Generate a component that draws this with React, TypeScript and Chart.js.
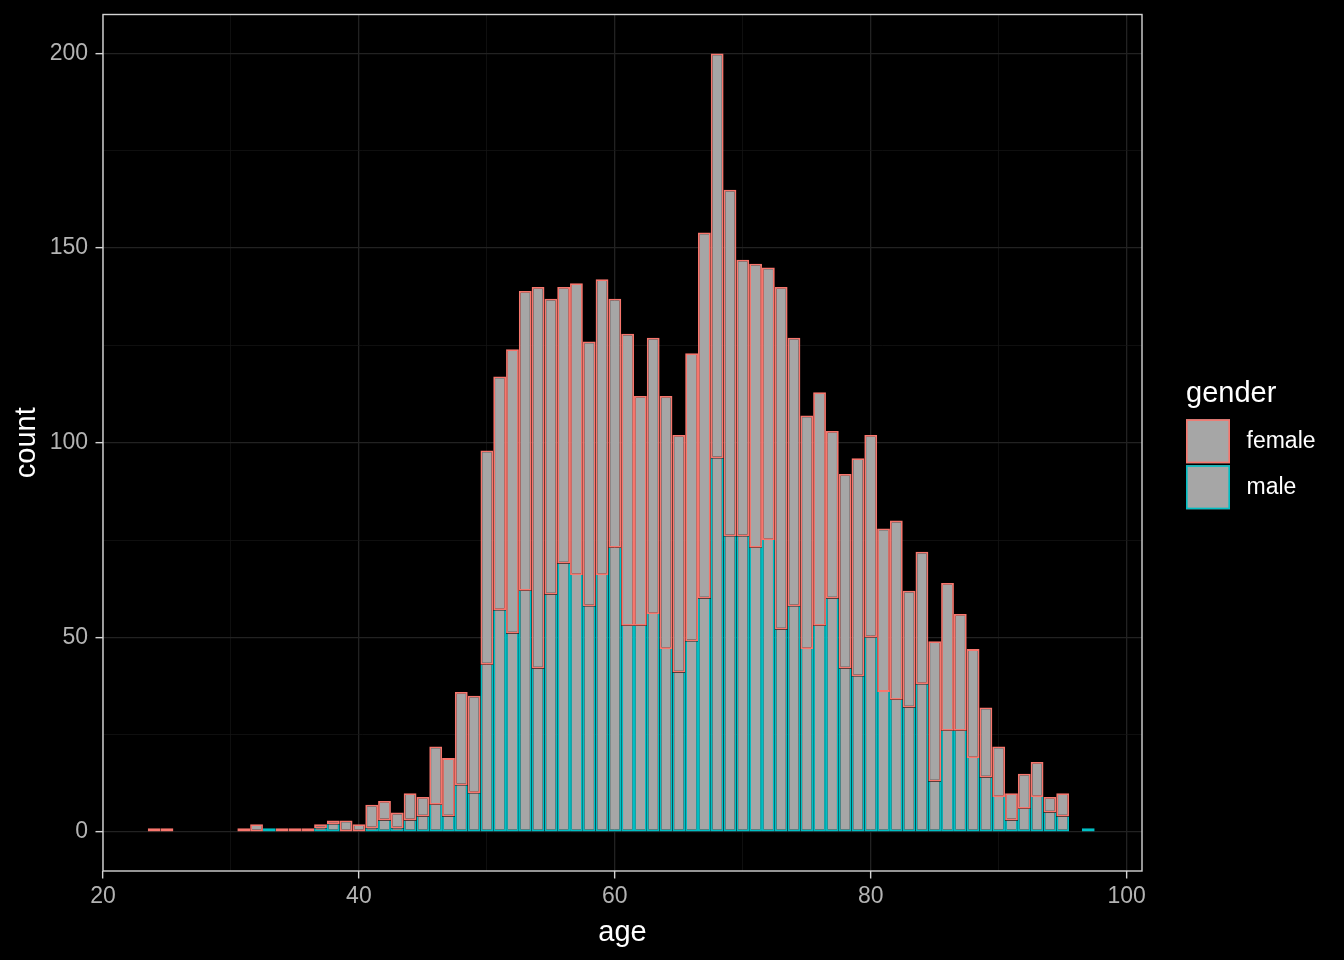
import React, { useEffect, useRef } from "react";
import { Chart, registerables } from "chart.js";

Chart.register(...registerables);

// ---- data (histogram, binwidth 1, stacked by gender) ----
const ages = [
  24, 25, 31, 32, 33, 34, 35, 36, 37, 38, 39, 40, 41, 42, 43, 44, 45, 46, 47, 48, 49,
  50, 51, 52, 53, 54, 55, 56, 57, 58, 59, 60, 61, 62, 63, 64, 65, 66, 67, 68, 69,
  70, 71, 72, 73, 74, 75, 76, 77, 78, 79, 80, 81, 82, 83, 84, 85, 86, 87, 88, 89,
  90, 91, 92, 93, 94, 95, 97,
];
const femaleCounts = [
  1, 1, 1, 2, 0, 1, 1, 1, 1, 1, 3, 2, 6, 5, 4, 7, 5, 15, 15, 24, 25,
  55, 60, 73, 77, 98, 76, 71, 75, 68, 76, 64, 75, 59, 71, 65, 61, 74, 94, 104, 89,
  71, 73, 70, 88, 69, 60, 60, 43, 50, 56, 52, 42, 46, 30, 34, 36, 38, 30, 28, 18,
  13, 7, 9, 9, 4, 6, 0,
];
const maleCounts = [
  0, 0, 0, 0, 1, 0, 0, 0, 1, 2, 0, 0, 1, 3, 1, 3, 4, 7, 4, 12, 10,
  43, 57, 51, 62, 42, 61, 69, 66, 58, 66, 73, 53, 53, 56, 47, 41, 49, 60, 96, 76,
  76, 73, 75, 52, 58, 47, 53, 60, 42, 40, 50, 36, 34, 32, 38, 13, 26, 26, 19, 14,
  9, 3, 6, 9, 5, 4, 1,
];
const genders = ["female", "male"];
const xTicks = [20, 30, 40, 50, 60, 70, 80, 90, 100];
const xLabelTicks = [20, 40, 60, 80, 100];
const yTicks = [0, 25, 50, 75, 100, 125, 150, 175, 200];
const yLabelTicks = [0, 50, 100, 150, 200];

// ---- styles ----
const FONT = '"Liberation Sans", Arial, sans-serif';
const FEMALE_COLOR = "#F8766D";
const MALE_COLOR = "#00BFC4";
const BAR_FILL = "#A6A6A6";
const TICK_TEXT = "#B3B3B3";
const MAJOR_GRID = "#222222";
const MINOR_GRID = "#151515";
const BORDER = "#D4D4D4";
const BW = 1.8;

const femaleByAge: Record<number, number> = {};
ages.forEach((a, i) => (femaleByAge[a] = femaleCounts[i]));

const bgPlugin = {
  id: "bg",
  beforeDraw(chart: any) {
    const c = chart.ctx;
    c.save();
    c.fillStyle = "#000000";
    c.fillRect(0, 0, chart.width, chart.height);
    c.restore();
  },
};

const panelPlugin = {
  id: "panelBorder",
  afterDatasetsDraw(chart: any) {
    const { left, top, right, bottom } = chart.chartArea;
    const c = chart.ctx;
    c.save();
    c.strokeStyle = BORDER;
    c.lineWidth = 1.4;
    c.strokeRect(left, top, right - left, bottom - top);
    c.restore();
  },
};

const legendPlugin = {
  id: "ggLegend",
  afterDraw(chart: any) {
    const { right, top, bottom } = chart.chartArea;
    const c = chart.ctx;
    const x0 = right + 44;
    const midY = (top + bottom) / 2;
    const keyTop = midY - 23.5;
    const key = 44;
    c.save();
    c.fillStyle = "#FFFFFF";
    c.font = `29px ${FONT}`;
    c.textAlign = "left";
    c.textBaseline = "alphabetic";
    c.fillText("gender", x0, keyTop - 17.5);
    const cols = [FEMALE_COLOR, MALE_COLOR];
    genders.forEach((g, i) => {
      const y = keyTop + i * (key + 2);
      c.fillStyle = BAR_FILL;
      c.fillRect(x0, y, key, key);
      c.strokeStyle = cols[i];
      c.lineWidth = 1.6;
      c.strokeRect(x0 + 0.8, y + 0.8, key - 1.6, key - 1.6);
      c.fillStyle = "#FFFFFF";
      c.font = `23px ${FONT}`;
      c.textBaseline = "middle";
      c.fillText(g, x0 + 60.5, y + key / 2);
      c.textBaseline = "alphabetic";
    });
    c.restore();
  },
};

const gridColor = (ctx: any, majors: number[]) => {
  if (!ctx.tick) return "rgba(0,0,0,0)";
  return majors.includes(ctx.tick.value) ? MAJOR_GRID : MINOR_GRID;
};
const gridWidth = (ctx: any, majors: number[]) => {
  if (!ctx.tick) return 0;
  return majors.includes(ctx.tick.value) ? 1.3 : 0.7;
};
const tickColor = (ctx: any, majors: number[]) => {
  if (!ctx.tick) return "rgba(0,0,0,0)";
  return majors.includes(ctx.tick.value) ? BORDER : "rgba(0,0,0,0)";
};

export default function App() {
  const canvasRef = useRef<HTMLCanvasElement | null>(null);

  useEffect(() => {
    document.body.style.background = "#000";
    const canvas = canvasRef.current;
    if (!canvas) return;

    // male bars start at 0; female bars are stacked on top of the male count
    const maleData = ages
      .map((a, i) => ({ x: a, y: maleCounts[i] }))
      .filter((d) => d.y > 0);
    const femaleData = ages
      .map((a, i) => ({
        x: a,
        y: [maleCounts[i], maleCounts[i] + femaleCounts[i]],
        n: femaleCounts[i],
      }))
      .filter((d) => d.n > 0);

    const chart = new Chart(canvas, {
      type: "bar",
      data: {
        datasets: [
          {
            label: "female",
            data: femaleData,
            order: 0,
            backgroundColor: BAR_FILL,
            borderColor: FEMALE_COLOR,
            borderSkipped: false,
            borderWidth: BW,
            inflateAmount: 0,
            barPercentage: 1,
            categoryPercentage: 1,
          } as any,
          {
            label: "male",
            data: maleData,
            order: 1,
            backgroundColor: BAR_FILL,
            borderColor: MALE_COLOR,
            borderSkipped: false,
            borderWidth: (ctx: any) => {
              const age = ctx.raw ? ctx.raw.x : 0;
              const hasFemale = (femaleByAge[age] || 0) > 0;
              return { top: hasFemale ? 0 : BW, bottom: BW, left: BW, right: BW };
            },
            inflateAmount: 0,
            barPercentage: 1,
            categoryPercentage: 1,
          } as any,
        ],
      },
      options: {
        animation: false,
        responsive: false,
        devicePixelRatio: 1,
        layout: { padding: { left: 0, right: 202, top: 14.5, bottom: 0 } },
        plugins: {
          legend: { display: false },
          tooltip: { enabled: false },
        },
        scales: {
          x: {
            type: "linear",
            min: 20,
            max: 101.2,
            stacked: true,
            offset: false,
            afterBuildTicks: (s: any) => {
              s.ticks = xTicks.map((v) => ({ value: v }));
            },
            afterFit: (s: any) => {
              s.height = 89;
              s.paddingLeft = 0;
              s.paddingRight = 0;
              s.paddingTop = 0;
              s.paddingBottom = 0;
            },
            ticks: {
              autoSkip: false,
              maxRotation: 0,
              color: TICK_TEXT,
              font: { family: FONT, size: 23 },
              padding: 4.5,
              callback: (v: any) => (xLabelTicks.includes(v) ? String(v) : ""),
            },
            grid: {
              offset: false,
              color: (ctx: any) => gridColor(ctx, xLabelTicks),
              lineWidth: (ctx: any) => gridWidth(ctx, xLabelTicks),
              tickColor: (ctx: any) => tickColor(ctx, xLabelTicks),
              tickWidth: 1.4,
              tickLength: 7.5,
              drawTicks: true,
            },
            border: { display: false },
            title: {
              display: true,
              text: "age",
              color: "#FFFFFF",
              font: { family: FONT, size: 29 },
              padding: { top: 0, bottom: 10 },
            },
          },
          y: {
            type: "linear",
            min: -10,
            max: 210,
            stacked: false,
            afterBuildTicks: (s: any) => {
              s.ticks = yTicks.map((v) => ({ value: v }));
            },
            afterFit: (s: any) => {
              s.width = 103;
              s.paddingLeft = 0;
              s.paddingRight = 0;
              s.paddingTop = 0;
              s.paddingBottom = 0;
            },
            ticks: {
              autoSkip: false,
              color: TICK_TEXT,
              font: { family: FONT, size: 23 },
              padding: 7.5,
              callback: (v: any) => (yLabelTicks.includes(v) ? String(v) : ""),
            },
            grid: {
              color: (ctx: any) => gridColor(ctx, yLabelTicks),
              lineWidth: (ctx: any) => gridWidth(ctx, yLabelTicks),
              tickColor: (ctx: any) => tickColor(ctx, yLabelTicks),
              tickWidth: 1.4,
              tickLength: 7.5,
              drawTicks: true,
            },
            border: { display: false },
            title: {
              display: true,
              text: "count",
              color: "#FFFFFF",
              font: { family: FONT, size: 29 },
              padding: { top: 9.6, bottom: 0 },
            },
          },
        },
      } as any,
      plugins: [bgPlugin, panelPlugin, legendPlugin],
    });

    return () => chart.destroy();
  }, []);

  return (
    <div
      style={{
        position: "fixed",
        left: 0,
        top: 0,
        width: 1344,
        height: 960,
        background: "#000",
      }}
    >
      <canvas ref={canvasRef} width={1344} height={960} style={{ display: "block" }} />
    </div>
  );
}
